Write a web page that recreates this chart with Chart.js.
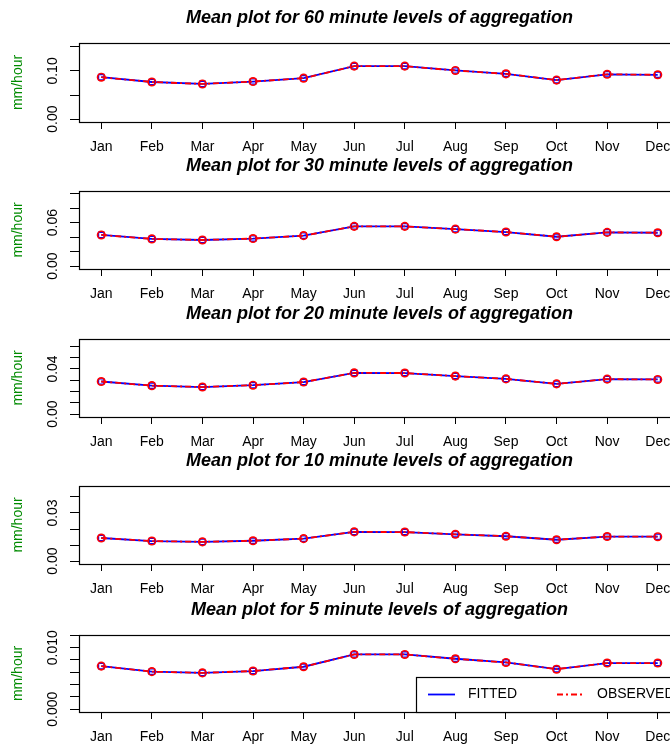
<!DOCTYPE html>
<html><head><meta charset="utf-8">
<script src="https://cdn.jsdelivr.net/npm/chart.js@4/dist/chart.umd.min.js"></script>
<style>
html,body{margin:0;padding:0;background:#fff;width:670px;height:749px;overflow:hidden;position:relative;}
canvas{position:absolute;left:0;}
</style></head><body>
<canvas id="c0" width="700" height="170" style="top:0px"></canvas>
<canvas id="c1" width="700" height="170" style="top:148px"></canvas>
<canvas id="c2" width="700" height="170" style="top:296px"></canvas>
<canvas id="c3" width="700" height="170" style="top:443px"></canvas>
<canvas id="c4" width="700" height="170" style="top:592px"></canvas>
<script>
const months = ['Jan','Feb','Mar','Apr','May','Jun','Jul','Aug','Sep','Oct','Nov','Dec'];
const levels = ['60','30','20','10','5'];

const fitted60   = [0.087, 0.077, 0.073, 0.078, 0.085, 0.110, 0.110, 0.101, 0.094, 0.081, 0.093, 0.092];
const observed60 = [0.087, 0.077, 0.073, 0.078, 0.085, 0.110, 0.110, 0.101, 0.094, 0.081, 0.093, 0.092];
const fitted30   = [0.043, 0.0375, 0.036, 0.038, 0.042, 0.0548, 0.0548, 0.051, 0.047, 0.0405, 0.0465, 0.046];
const observed30 = [0.043, 0.0375, 0.036, 0.038, 0.042, 0.0548, 0.0548, 0.051, 0.047, 0.0405, 0.0465, 0.046];
const fitted20   = [0.0289, 0.0252, 0.0240, 0.0256, 0.0284, 0.0365, 0.0364, 0.0337, 0.0312, 0.0268, 0.0310, 0.0307];
const observed20 = [0.0289, 0.0252, 0.0240, 0.0256, 0.0284, 0.0365, 0.0364, 0.0337, 0.0312, 0.0268, 0.0310, 0.0307];
const fitted10   = [0.0144, 0.0125, 0.0120, 0.0127, 0.0140, 0.0182, 0.0181, 0.0167, 0.0155, 0.0133, 0.0153, 0.0152];
const observed10 = [0.0144, 0.0125, 0.0120, 0.0127, 0.0140, 0.0182, 0.0181, 0.0167, 0.0155, 0.0133, 0.0153, 0.0152];
const fitted5    = [0.0070, 0.0061, 0.0059, 0.0062, 0.0069, 0.0089, 0.0089, 0.0082, 0.0076, 0.0065, 0.0075, 0.0075];
const observed5  = [0.0070, 0.0061, 0.0059, 0.0062, 0.0069, 0.0089, 0.0089, 0.0082, 0.0076, 0.0065, 0.0075, 0.0075];

const yTicks60 = [0, 0.05, 0.10, 0.15];
const yLabels60 = ['0.00', '', '0.10', ''];
const yTicks30 = [0, 0.02, 0.04, 0.06, 0.08, 0.10];
const yLabels30 = ['0.00', '', '', '0.06', '', ''];
const yTicks20 = [0, 0.01, 0.02, 0.03, 0.04, 0.05, 0.06];
const yLabels20 = ['0.00', '', '', '', '0.04', '', ''];
const yTicks10 = [0, 0.01, 0.02, 0.03, 0.04];
const yLabels10 = ['0.00', '', '', '0.03', ''];
const yTicks5 = [0, 0.002, 0.004, 0.006, 0.008, 0.010, 0.012];
const yLabels5 = ['0.000', '', '', '', '', '0.010', ''];
// upper end of each panel's y data range (before the 4% axis extension)
const yUpper = [0.152, 0.0996, 0.064, 0.045, 0.0116];

const FONT = '"Liberation Sans", Arial, Helvetica, sans-serif';
const TICK_SIZE = 14;

const panels = [
  {fitted: fitted60, observed: observed60, yTicks: yTicks60, yLabels: yLabels60, boxH: 79},
  {fitted: fitted30, observed: observed30, yTicks: yTicks30, yLabels: yLabels30, boxH: 78},
  {fitted: fitted20, observed: observed20, yTicks: yTicks20, yLabels: yLabels20, boxH: 78},
  {fitted: fitted10, observed: observed10, yTicks: yTicks10, yLabels: yLabels10, boxH: 78},
  {fitted: fitted5,  observed: observed5,  yTicks: yTicks5,  yLabels: yLabels5,  boxH: 77, legend: true}
];

const mctx = document.createElement('canvas').getContext('2d');
function measure(t, size) { mctx.font = size + 'px ' + FONT; return mctx.measureText(t).width; }

const boxPlugin = {
  id: 'box',
  afterDatasetsDraw(chart) {
    const {ctx, chartArea: a} = chart;
    ctx.save();
    ctx.strokeStyle = '#000';
    ctx.lineWidth = 1.2;
    ctx.strokeRect(Math.round(a.left) + 0.5, Math.round(a.top) + 0.5, Math.round(a.right - a.left), Math.round(a.bottom - a.top));
    ctx.restore();
  }
};

const legendPlugin = {
  id: 'rlegend',
  afterDraw(chart) {
    const {ctx, chartArea: a} = chart;
    const ds = chart.data.datasets;
    const top = a.bottom - 35, left = 416;
    ctx.save();
    ctx.fillStyle = '#fff';
    ctx.fillRect(left, top, 400, 35);
    ctx.strokeStyle = '#000';
    ctx.lineWidth = 1.2;
    ctx.strokeRect(left + 0.5, top + 0.5, 400, 35);
    const y = top + 17.5;
    const items = [{x: 428, tx: 468}, {x: 557, tx: 597}];
    items.forEach((it, i) => {
      ctx.strokeStyle = ds[i].borderColor;
      ctx.lineWidth = ds[i].borderWidth;
      ctx.setLineDash(ds[i].borderDash || []);
      ctx.beginPath(); ctx.moveTo(it.x, y); ctx.lineTo(it.x + 27, y); ctx.stroke();
      ctx.setLineDash([]);
      ctx.fillStyle = '#000';
      ctx.font = TICK_SIZE + 'px ' + FONT;
      ctx.textBaseline = 'middle';
      ctx.textAlign = 'left';
      ctx.fillText(ds[i].label, it.tx, y);
    });
    ctx.restore();
  }
};

panels.forEach((p, k) => {
  const B = yUpper[k];
  const widest = Math.max(...p.yLabels.map(t => measure(t, TICK_SIZE)));
  const yPad = 17 - widest / 2;
  const plugins = [boxPlugin];
  if (p.legend) plugins.push(legendPlugin);
  new Chart(document.getElementById('c' + k), {
    type: 'line',
    data: {
      datasets: [
        {label: 'FITTED', data: p.fitted.map((v, i) => ({x: i + 1, y: v})),
         borderColor: '#0000FF', borderWidth: 1.8, tension: 0,
         pointStyle: 'rect', pointRadius: 3.8, pointBorderWidth: 1.3,
         pointBorderColor: '#0000FF', pointBackgroundColor: 'rgba(0,0,0,0)', order: 2},
        {label: 'OBSERVED', data: p.observed.map((v, i) => ({x: i + 1, y: v})),
         borderColor: '#FF0000', borderWidth: 1.8, borderDash: [6, 3, 2, 3], tension: 0,
         pointStyle: 'circle', pointRadius: 3.7, pointBorderWidth: 1.7,
         pointBorderColor: '#FF0000', pointBackgroundColor: 'rgba(0,0,0,0)', order: 1}
      ]
    },
    options: {
      responsive: false, animation: false, devicePixelRatio: 1,
      layout: {padding: {left: 0, right: 20, top: 0, bottom: 0}},
      plugins: {
        legend: {display: false}, tooltip: {enabled: false},
        title: {display: true, fullSize: false, color: '#000',
          text: 'Mean plot for ' + levels[k] + ' minute levels of aggregation',
          font: {family: FONT, size: 18, weight: 'bold', style: 'italic'},
          padding: {top: 7.5, bottom: 13.9}}
      },
      scales: {
        x: {
          type: 'linear', min: 0.56, max: 12.44,
          afterBuildTicks: s => { s.ticks = months.map((m, i) => ({value: i + 1})); },
          afterFit: s => { s.height = 170 - 43 - p.boxH; },
          ticks: {autoSkip: false, minRotation: 0, maxRotation: 0, padding: 10.2, color: '#000',
                  font: {family: FONT, size: TICK_SIZE}, callback: v => months[v - 1]},
          grid: {drawOnChartArea: false, drawTicks: true, tickLength: 7, tickColor: '#000', tickWidth: 1},
          border: {display: false}
        },
        y: {
          min: -0.04 * B, max: 1.04 * B,
          afterBuildTicks: s => { s.ticks = p.yTicks.map(v => ({value: v})); },
          afterFit: s => { s.width = 79; },
          ticks: {autoSkip: false, minRotation: 90, maxRotation: 90, crossAlign: 'center', padding: yPad,
                  color: '#000', font: {family: FONT, size: TICK_SIZE},
                  callback: (v, i) => p.yLabels[i]},
          grid: {drawOnChartArea: false, drawTicks: true, tickLength: 9, tickColor: '#000', tickWidth: 1},
          border: {display: false},
          title: {display: true, text: 'mm/hour', color: '#008B00',
                  font: {family: FONT, size: 14}, padding: {top: 10, bottom: 0}}
        }
      }
    },
    plugins: plugins
  });
});
</script>
</body></html>
